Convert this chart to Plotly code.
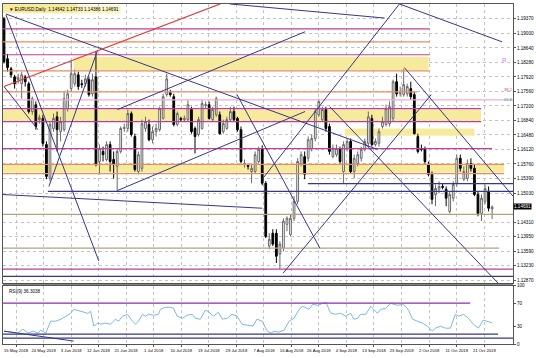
import plotly.graph_objects as go

# ---------------- data ----------------
opens = [1.1936,1.1837,1.1812,1.1792,1.1785,1.1775,1.1792,1.1775,1.1706,1.1723,
1.1686,1.1689,1.1624,1.1540,1.1664,1.1693,1.1656,1.1661,1.1713,1.1763,
1.1775,1.1797,1.1775,1.1775,1.1785,1.1750,1.1792,1.1582,1.1607,1.1587,
1.1624,1.1587,1.1570,1.1607,1.1664,1.1664,1.1701,1.1644,1.1557,1.1565,
1.1664,1.1674,1.1636,1.1656,1.1661,1.1689,1.1748,1.1753,1.1743,1.1674,
1.1689,1.1686,1.1686,1.1711,1.1664,1.1649,1.1664,1.1721,1.1723,1.1686,
1.1698,1.1698,1.1656,1.1664,1.1686,1.1706,1.1689,1.1661,1.1575,1.1572,
1.1557,1.1557,1.1582,1.1614,1.1528,1.1372,1.1404,1.1404,1.1352,1.1367,
1.1426,1.1401,1.1441,1.1483,1.1575,1.1594,1.1590,1.1614,1.1639,1.1698,
1.1686,1.1711,1.1669,1.1594,1.1599,1.1614,1.1557,1.1614,1.1632,1.1557,
1.1577,1.1590,1.1614,1.1627,1.1689,1.1624,1.1627,1.1669,1.1674,1.1676,
1.1689,1.1780,1.1750,1.1748,1.1750,1.1763,1.1748,1.1644,1.1614,1.1614,
1.1575,1.1550,1.1500,1.1513,1.1520,1.1513,1.1458,1.1491,1.1528,1.1590,
1.1538,1.1540,1.1577,1.1565,1.1500,1.1453,1.1483,1.1508,1.1464]
highs = [1.1941,1.1849,1.1817,1.1797,1.1800,1.1805,1.1797,1.1780,1.1743,1.1731,
1.1698,1.1698,1.1632,1.1681,1.1701,1.1706,1.1693,1.1755,1.1760,1.1834,
1.1810,1.1805,1.1785,1.1797,1.1792,1.1800,1.1854,1.1624,1.1619,1.1632,
1.1632,1.1607,1.1612,1.1669,1.1676,1.1711,1.1706,1.1651,1.1607,1.1686,
1.1693,1.1686,1.1669,1.1676,1.1718,1.1750,1.1800,1.1760,1.1750,1.1706,
1.1693,1.1696,1.1735,1.1718,1.1669,1.1693,1.1735,1.1731,1.1731,1.1718,
1.1743,1.1706,1.1686,1.1693,1.1718,1.1718,1.1693,1.1669,1.1587,1.1577,
1.1575,1.1607,1.1619,1.1622,1.1533,1.1404,1.1414,1.1414,1.1384,1.1441,
1.1446,1.1451,1.1496,1.1590,1.1607,1.1607,1.1644,1.1649,1.1713,1.1738,
1.1718,1.1718,1.1676,1.1624,1.1624,1.1619,1.1632,1.1639,1.1639,1.1599,
1.1607,1.1619,1.1639,1.1706,1.1698,1.1639,1.1664,1.1693,1.1723,1.1731,
1.1785,1.1800,1.1768,1.1812,1.1775,1.1780,1.1755,1.1651,1.1624,1.1619,
1.1582,1.1557,1.1525,1.1533,1.1528,1.1520,1.1508,1.1533,1.1599,1.1599,
1.1570,1.1587,1.1590,1.1575,1.1508,1.1500,1.1525,1.1520,1.1473]
lows = [1.1825,1.1805,1.1790,1.1763,1.1775,1.1738,1.1768,1.1701,1.1698,1.1661,
1.1676,1.1619,1.1538,1.1533,1.1656,1.1607,1.1632,1.1656,1.1706,1.1755,
1.1768,1.1760,1.1765,1.1768,1.1743,1.1743,1.1570,1.1550,1.1582,1.1582,
1.1557,1.1540,1.1508,1.1602,1.1656,1.1656,1.1644,1.1557,1.1550,1.1557,
1.1656,1.1632,1.1627,1.1644,1.1656,1.1686,1.1743,1.1743,1.1669,1.1669,
1.1681,1.1681,1.1681,1.1651,1.1602,1.1644,1.1661,1.1713,1.1686,1.1681,
1.1693,1.1649,1.1651,1.1661,1.1681,1.1681,1.1656,1.1577,1.1567,1.1562,
1.1528,1.1552,1.1577,1.1523,1.1392,1.1364,1.1372,1.1330,1.1315,1.1359,
1.1409,1.1396,1.1434,1.1476,1.1570,1.1538,1.1582,1.1607,1.1632,1.1693,
1.1681,1.1656,1.1599,1.1590,1.1594,1.1577,1.1528,1.1607,1.1552,1.1540,
1.1570,1.1582,1.1607,1.1619,1.1619,1.1619,1.1619,1.1664,1.1669,1.1669,
1.1681,1.1743,1.1743,1.1743,1.1743,1.1735,1.1649,1.1602,1.1607,1.1577,
1.1545,1.1476,1.1471,1.1503,1.1513,1.1471,1.1453,1.1483,1.1520,1.1557,
1.1533,1.1533,1.1557,1.1496,1.1446,1.1434,1.1476,1.1458,1.1439]
closes = [1.1830,1.1815,1.1797,1.1775,1.1790,1.1797,1.1780,1.1706,1.1738,1.1669,
1.1691,1.1627,1.1545,1.1674,1.1689,1.1661,1.1681,1.1738,1.1750,1.1800,
1.1800,1.1768,1.1773,1.1787,1.1748,1.1785,1.1575,1.1614,1.1599,1.1624,
1.1582,1.1575,1.1607,1.1664,1.1666,1.1701,1.1649,1.1562,1.1599,1.1676,
1.1681,1.1636,1.1656,1.1664,1.1713,1.1743,1.1787,1.1748,1.1674,1.1701,
1.1686,1.1689,1.1723,1.1656,1.1644,1.1686,1.1726,1.1723,1.1689,1.1711,
1.1738,1.1651,1.1676,1.1686,1.1706,1.1686,1.1661,1.1582,1.1577,1.1570,
1.1565,1.1599,1.1612,1.1528,1.1396,1.1389,1.1377,1.1347,1.1377,1.1434,
1.1441,1.1441,1.1483,1.1582,1.1599,1.1550,1.1636,1.1639,1.1706,1.1731,
1.1711,1.1664,1.1607,1.1614,1.1614,1.1582,1.1624,1.1632,1.1557,1.1590,
1.1599,1.1612,1.1632,1.1693,1.1624,1.1632,1.1656,1.1681,1.1713,1.1718,
1.1780,1.1750,1.1753,1.1773,1.1768,1.1743,1.1651,1.1607,1.1612,1.1582,
1.1550,1.1488,1.1515,1.1520,1.1518,1.1491,1.1500,1.1525,1.1590,1.1565,
1.1557,1.1577,1.1565,1.1500,1.1453,1.1491,1.1515,1.1466,1.1469]
bars = list(range(len(opens)))

# RSI(9) readings (bar position, value)
rsi_pos = [0,3.9,5.4,6.8,8.2,9.6,10.4,11.8,13.2,14.6,16.1,17.5,18.9,19.7,20.8,22.3,23.7,24.5,25.4,26.5,
27.3,28.7,30.1,31.5,32.4,33.5,34.9,36.3,37.2,38.0,39.2,40.0,40.8,42.3,43.7,44.2,45.6,47.0,47.9,49.0,
50.4,51.8,53.2,54.1,55.5,56.9,57.7,59.2,60.6,61.7,63.1,64.5,65.9,67.3,69.0,70.4,71.5,73.0,74.4,75.5,
76.3,77.7,79.2,80.6,82.0,83.4,84.5,85.4,86.2,87.3,88.7,90.1,91.0,92.4,93.8,95.2,96.6,98.0,98.9,100.0,
100.8,102.3,103.7,104.5,105.6,106.5,107.9,109.3,110.1,111.3,112.7,113.5,114.4,115.5,116.9,118.3,119.7,121.1,122.0,123.4,
124.8,126.2,127.6,128.5,129.9,131.3,132.7,134.1,135.5,136.6,138.0]
rsi_val = [22,18.6,25.4,18.6,22,18.6,23.7,18.6,39,39,42.4,47.5,52.5,59.3,57.6,54.2,52.5,55.9,30.5,35.6,
33.9,35.6,33.9,42.4,39,47.5,50.8,39,33.9,39,50.8,47.5,50.8,49.2,50.8,59.3,62.7,62.7,61,47.5,
44,49.2,50.8,44,42.4,57.6,55.9,47.5,54.2,42.4,44,50.8,47.5,33.9,32.2,30.5,42.4,39,22,18.6,
22,20.3,23.7,39,44,59.3,64.4,61,59.3,67.8,66.1,69.5,71.2,52.5,50.8,52.5,47.5,52.5,42.4,44,
50.8,50.8,64.4,59.3,52.5,59.3,61,69.5,67.8,66.1,67.8,64.4,57.6,42.4,39,35.6,30.5,22,27.1,30.5,
27.1,27.1,50.8,47.5,50.8,44,33.9,27.1,40.7,39,36.3]

date_labels = ["15 May 2018","24 May 2018","3 Jun 2018","12 Jun 2018","21 Jun 2018","1 Jul 2018",
               "10 Jul 2018","19 Jul 2018","29 Jul 2018","7 Aug 2018","16 Aug 2018","26 Aug 2018",
               "4 Sep 2018","13 Sep 2018","23 Sep 2018","2 Oct 2018","11 Oct 2018","21 Oct 2018"]
date_pos = [3.4,11.2,19.0,26.7,34.5,42.3,50.1,57.9,65.7,73.5,81.3,89.0,96.8,104.6,112.4,120.2,128.0,135.8]

price_ticks = [1.19370,1.19000,1.18640,1.18280,1.17920,1.17560,1.17200,1.16840,1.16480,1.16120,
               1.15760,1.15390,1.15030,1.14310,1.13950,1.13590,1.13230,1.12870]
last_price = 1.14691
rsi_ticks = [100, 70, 30, 0]

# horizontal levels: price, start bar, end bar, kind
lvl_price = [1.1911,1.1879,1.1847,1.1807,1.1755,1.1735,1.1713,1.1681,1.1614,1.1575,1.1552,1.1527,1.1508,1.1451,1.1367,1.1315,1.1297]
lvl_start = [-0.3,-0.3,-0.3,-0.3,-0.3,-0.3,-0.3,-0.3,-0.3,-0.3,-0.3,85.9,12.4,-0.3,-0.3,-0.3,-0.3]
lvl_end   = [120.3,120.3,120.3,120.3,116.9,144,134.9,134.9,138.0,141.4,141.4,144,144,144,140.0,144,144]
lvl_kind  = ["mag","ora","mag","ora","ora","pink","mag","mag","mag","ora","ora","navy","navy","tan","tan","mag","navy"]

# supply / demand zones: low price, high price, start bar, end bar
zone_lo = [1.1951,1.1809,1.1683,1.1646,1.1555]
zone_hi = [1.1975,1.1842,1.1711,1.1664,1.1575]
zone_x0 = [-0.3,19.7,-0.3,96.3,-0.3]
zone_x1 = [20.8,120.0,134.9,133.0,141.4]

# trend lines (bar, price) -> (bar, price)
tl_x0 = [0.56,0.56,0.0,12.7,32.1,32.1,-0.28,65.9,78.9,73.0,63.9,111.8,113.2,92.1]
tl_y0 = [1.1948,1.1946,1.1768,1.1520,1.1711,1.1510,1.1500,1.1748,1.1305,1.1538,1.1973,1.1973,1.1815,1.1718]
tl_x1 = [105.6,26.8,9.6,26.5,85.1,85.1,73.0,89.3,120.8,111.8,107.6,140.8,143.9,139.7]
tl_y1 = [1.1612,1.1335,1.1661,1.1859,1.1904,1.1706,1.1466,1.1367,1.1748,1.1973,1.1938,1.1879,1.1496,1.1280]
red_x = [0.0, 61.1]
red_y = [1.1768, 1.1973]

# RSI panel lines
rsi_lvl = [70, 17, 10]
rsi_lvl_end = [131.8, 139.7, 144]
rsi_tl_x = [0.0, 19.7]
rsi_tl_y = [22, 5]

# ---------------- styles ----------------
col = {"mag": "#c23c98", "ora": "#e58f62", "pink": "#eeb0c8", "navy": "#36368a", "tan": "#b3a27e"}
yellow = "#f6eb9c"
font = "Liberation Sans"
xfs = 4.2
yfs = 4.6

fig = go.Figure()
fig.add_trace(go.Candlestick(
    x=bars, open=opens, high=highs, low=lows, close=closes,
    increasing=dict(line=dict(color="#6a6a6a", width=1), fillcolor="#ffffff"),
    decreasing=dict(line=dict(color="#000000", width=1), fillcolor="#000000"),
    whiskerwidth=0, hoverinfo="skip", xaxis="x", yaxis="y", showlegend=False))
fig.add_trace(go.Scatter(x=rsi_pos, y=rsi_val, mode="lines",
    line=dict(color="#7db7e3", width=1), xaxis="x2", yaxis="y2",
    hoverinfo="skip", showlegend=False))

shapes = []
for lo, hi, a, b in zip(zone_lo, zone_hi, zone_x0, zone_x1):
    shapes.append(dict(type="rect", xref="x", yref="y", x0=a, x1=b, y0=lo, y1=hi,
                       fillcolor=yellow, line=dict(width=0), layer="between"))
for p, a, b, k in zip(lvl_price, lvl_start, lvl_end, lvl_kind):
    shapes.append(dict(type="line", xref="x", yref="y", x0=a, x1=b, y0=p, y1=p,
                       line=dict(color=col[k], width=1.2)))
for a, b, c, d in zip(tl_x0, tl_y0, tl_x1, tl_y1):
    shapes.append(dict(type="line", xref="x", yref="y", x0=a, y0=b, x1=c, y1=d,
                       line=dict(color=col["navy"], width=1)))
shapes.append(dict(type="line", xref="x", yref="y", x0=red_x[0], y0=red_y[0], x1=red_x[1], y1=red_y[1],
                   line=dict(color="#e03a3a", width=1.2)))
for v, e in zip(rsi_lvl, rsi_lvl_end):
    shapes.append(dict(type="line", xref="x2", yref="y2", x0=-0.3, x1=e, y0=v, y1=v,
                       line=dict(color="#8a2ab8" if v == 70 else col["navy"], width=1.2)))
shapes.append(dict(type="line", xref="x2", yref="y2", x0=rsi_tl_x[0], x1=rsi_tl_x[1],
                   y0=rsi_tl_y[0], y1=rsi_tl_y[1], line=dict(color=col["navy"], width=1)))
shapes.append(dict(type="line", xref="paper", yref="paper", x0=0, x1=1, y0=0.176, y1=0.176,
                   line=dict(color="#444444", width=1)))

xr = [-0.28, 143.9]
fig.update_layout(
    width=536, height=358, margin=dict(l=2, r=22, t=2, b=14),
    paper_bgcolor="white", plot_bgcolor="white", showlegend=False,
    font=dict(family=font, size=5, color="#000000"),
    shapes=shapes, hovermode=False,
    xaxis=dict(domain=[0, 1], range=xr, anchor="y", tickvals=date_pos, showticklabels=False,
               showgrid=True, gridcolor="#c4c4c4", griddash="dot", gridwidth=1,
               zeroline=False, rangeslider=dict(visible=False), ticks="",
               showline=True, mirror=True, linecolor="#555555", linewidth=1),
    xaxis2=dict(domain=[0, 1], range=xr, anchor="y2", matches="x", tickvals=date_pos,
                ticktext=date_labels, tickfont=dict(size=xfs, family=font), ticks="outside",
                tickangle=0, ticklen=2, tickcolor="#555555",
                showgrid=True, gridcolor="#c4c4c4", griddash="dot", zeroline=False,
                showline=True, mirror=True, linecolor="#555555", linewidth=1),
    yaxis=dict(domain=[0.179, 1], range=[1.12801, 1.19729], side="right", anchor="x",
               tickvals=price_ticks, ticktext=["%.5f" % v for v in price_ticks],
               tickfont=dict(size=yfs, family=font), ticks="outside", ticklen=2, tickcolor="#555555",
               showgrid=True, gridcolor="#c4c4c4", griddash="dot", zeroline=False,
               showline=True, mirror=True, linecolor="#555555", linewidth=1),
    yaxis2=dict(domain=[0, 0.172], range=[0, 100], side="right", anchor="x2",
                tickvals=rsi_ticks, ticktext=[str(v) for v in rsi_ticks],
                tickfont=dict(size=yfs, family=font), ticks="outside", ticklen=2, tickcolor="#555555",
                showgrid=False, zeroline=False,
                showline=True, mirror=True, linecolor="#555555", linewidth=1),
)

fig.add_annotation(xref="paper", yref="paper", x=0.008, y=0.998, xanchor="left", yanchor="top",
                   text="\u25bc EURUSD,Daily  1.14642 1.14733 1.14386 1.14691", showarrow=False,
                   bgcolor="rgba(246,235,156,0.6)",
                   font=dict(size=yfs, color="#000000", family=font))
fig.add_annotation(xref="paper", yref="paper", x=0.008, y=0.168, xanchor="left", yanchor="top",
                   text="RSI(9) 36.3038", showarrow=False, font=dict(size=yfs, color="#000000", family=font))
fig.add_annotation(xref="paper", yref="y", x=1.0, y=last_price, xanchor="left", yanchor="middle",
                   text="1.14691", showarrow=False, bgcolor="#000000", borderpad=0,
                   font=dict(size=yfs, color="#ffffff", family=font))
fig.add_annotation(xref="x", yref="y", x=141.6, y=1.1833, text="R", showarrow=False,
                   font=dict(size=6, color="#c080e0", family=font))
fig.add_annotation(xref="x", yref="y", x=142.5, y=1.1760, text="38.2", showarrow=False,
                   font=dict(size=4, color="#d05050", family=font))
fig.add_annotation(xref="x", yref="y", x=142.5, y=1.1735, text="61.8", showarrow=False,
                   font=dict(size=4, color="#30a0a0", family=font))

fig.write_html("out.html")
